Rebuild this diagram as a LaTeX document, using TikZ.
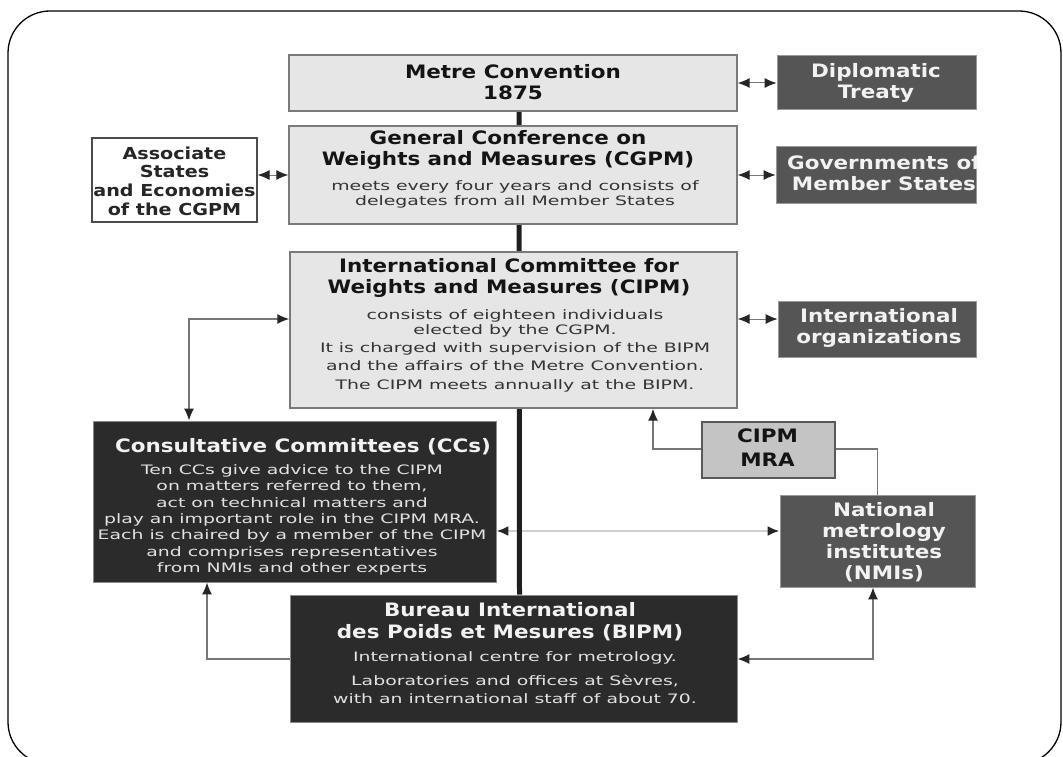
\documentclass[tikz,border=0pt]{standalone}
\usepackage{fontspec}
\usetikzlibrary{arrows.meta}
\newfontfamily\tfont[FakeStretch=1.16]{DejaVu Sans}
\newfontfamily\bfont[FakeStretch=1.45]{DejaVu Sans}
\definecolor{lightfill}{HTML}{E6E6E6}
\definecolor{lightdraw}{HTML}{7A7A7A}
\definecolor{darkfill}{HTML}{2B2B2B}
\definecolor{midfill}{HTML}{555555}
\definecolor{mrafill}{HTML}{C4C4C4}
\definecolor{linegray}{HTML}{777777}
\definecolor{palegray}{HTML}{CFCFCF}
\definecolor{tipcol}{HTML}{262626}
\definecolor{bodydark}{HTML}{333333}
\definecolor{bodylight}{HTML}{E2E2E2}
\pgfdeclarelayer{bg}
\pgfsetlayers{bg,main}
\begin{document}
\begin{tikzpicture}[x=1pt,y=-1pt,
  >={Latex[length=12pt,width=10pt,color=tipcol]},
  lbox/.style={rectangle,fill=lightfill,draw=lightdraw,line width=1.4pt,inner sep=0pt},
  dbox/.style={rectangle,fill=darkfill,draw=black!45,line width=0.8pt,inner sep=0pt},
  mbox/.style={rectangle,fill=midfill,draw=black!40,line width=0.8pt,inner sep=0pt},
  wbox/.style={rectangle,fill=white,draw=black!70,line width=1.2pt,inner sep=0pt},
  rbox/.style={rectangle,fill=mrafill,draw=black!65,line width=1.2pt,inner sep=0pt},
  ttxt/.style={inner sep=0pt,align=center,text=black!92,font=\tfont\bfseries\fontsize{18.5}{21}\selectfont},
  wtxt/.style={ttxt,text=white!95!black},
  atxt/.style={inner sep=0pt,align=center,text=black!85,font=\tfont\bfseries\fontsize{16.5}{18.7}\selectfont},
  btxt/.style={inner sep=0pt,align=center,text=bodydark,font=\bfont\fontsize{13}{15}\selectfont},
  bwtxt/.style={btxt,text=bodylight},
  conn/.style={draw=linegray,line width=1.4pt},
  dbl/.style={draw=linegray,line width=1pt,<->},
  spine/.style={draw=black!88,line width=5pt}
]
\useasboundingbox (0,0) rectangle (1063,757);
\draw[line width=1.3pt,rounded corners=42pt] (8,11) rectangle (1061,764);

% boxes
\node[lbox,minimum width=448pt,minimum height=56pt] (metre) at (513,83) {};
\node[mbox,minimum width=199pt,minimum height=54pt] (diplo) at (876.5,82) {};
\node[lbox,minimum width=448pt,minimum height=98pt] (cgpm) at (513,175) {};
\node[wbox,minimum width=165pt,minimum height=84pt] (assoc) at (174.5,180) {};
\node[mbox,minimum width=200pt,minimum height=57pt] (gov) at (876,174.5) {};
\node[lbox,minimum width=447pt,minimum height=156pt] (cipm) at (513.5,330) {};
\node[mbox,minimum width=198pt,minimum height=56pt] (intl) at (877,329) {};
\node[dbox,minimum width=403pt,minimum height=161pt] (cc) at (294.5,501.5) {};
\node[rbox,minimum width=133pt,minimum height=56pt] (mra) at (768.5,450) {};
\node[mbox,minimum width=195pt,minimum height=92pt] (nmi) at (877.5,541) {};
\node[dbox,minimum width=447pt,minimum height=127pt] (bipm) at (513.5,658.5) {};

% helper coordinates
\coordinate (cL) at (189,319);
\coordinate (cI) at (737,319);
\coordinate (cM) at (653,449);
\coordinate (cH) at (0,531);
\coordinate (cBL) at (207,659);
\coordinate (cBR) at (873,659);

% connectors (behind the boxes)
\begin{pgfonlayer}{bg}
\draw[dbl] (metre.east) -- (metre.east -| diplo.west);
\draw[dbl] (assoc.east |- cgpm.west) -- (cgpm.west);
\draw[dbl] (cgpm.east) -- (cgpm.east -| gov.west);
\draw[dbl] (cI -| cipm.east) -- (cI -| intl.west);
\draw[conn,<->] (cL -| cipm.west) -- (cL) -- (cL |- cc.north);
\draw[conn,->] (mra.west |- cM) -- (cM) -- (cM |- cipm.south);
\draw[conn] (mra.east |- cM) -| (nmi.north);
\draw[draw=palegray,line width=2.6pt,<->] (cH -| cc.east) -- (cH -| nmi.west);
\draw[conn,->] (cBL -| bipm.west) -- (cBL) -- (cBL |- cc.south);
\draw[conn,<->] (cBR -| bipm.east) -- (cBR) -- (cBR |- nmi.south);
\draw[spine] ([xshift=6pt]metre.south) -- ([xshift=6pt]bipm.north);
\end{pgfonlayer}

% texts
\node[ttxt] (metreT) at (513,82) {Metre Convention\\1875};
\node[wtxt] (diploT) at (876,83) {Diplomatic\\Treaty};
\node[ttxt] (cgpmT) at (508,150) {General Conference on\\Weights and Measures (CGPM)};
\node[btxt] (cgpmB) at (515,194) {meets every four years and consists of\\delegates from all Member States};
\begin{scope}
  \clip (assoc.south west) rectangle (assoc.north east);
  \node[atxt] (assocT) at (174.5,181) {Associate\\States\\and Economies\\of the CGPM};
\end{scope}
\begin{scope}
  \clip (gov.south west) rectangle (gov.north east);
  \node[wtxt] (govT) at (884,173) {Governments of\\Member States};
\end{scope}
\node[ttxt] (cipmT) at (509,278) {International Committee for\\Weights and Measures (CIPM)};
\node[btxt] (cipmB) at (515,351) {consists of eighteen individuals\\elected by the CGPM.\\[3pt]It is charged with supervision of the BIPM\\[3pt]and the affairs of the Metre Convention.\\[4pt]The CIPM meets annually at the BIPM.};
\node[wtxt] (intlT) at (879,328) {International\\organizations};
\begin{scope}
  \clip (cc.south west) rectangle (cc.north east);
  \node[wtxt] (ccT) at (303,447) {Consultative Committees (CCs)};
\end{scope}
\node[bwtxt,font=\bfont\fontsize{13}{16.3}\selectfont] (ccB) at (292,520) {Ten CCs give advice to the CIPM\\on matters referred to them,\\act on technical matters and\\play an important role in the CIPM MRA.\\Each is chaired by a member of the CIPM\\and comprises representatives\\from NMIs and other experts};
\node[ttxt,font=\tfont\bfseries\fontsize{18.5}{24}\selectfont] (mraT) at (767.5,448) {CIPM\\MRA};
\node[wtxt] (nmiT) at (884,542) {National\\metrology\\institutes\\(NMIs)};
\node[wtxt,font=\tfont\bfseries\fontsize{18.5}{22}\selectfont] (bipmT) at (510,622) {Bureau International\\des Poids et Mesures (BIPM)};
\node[bwtxt,font=\bfont\fontsize{13}{18}\selectfont] (bipmB) at (515,678) {International centre for metrology.\\[6pt]Laboratories and offices at Sèvres,\\with an international staff of about 70.};
\end{tikzpicture}
\end{document}
